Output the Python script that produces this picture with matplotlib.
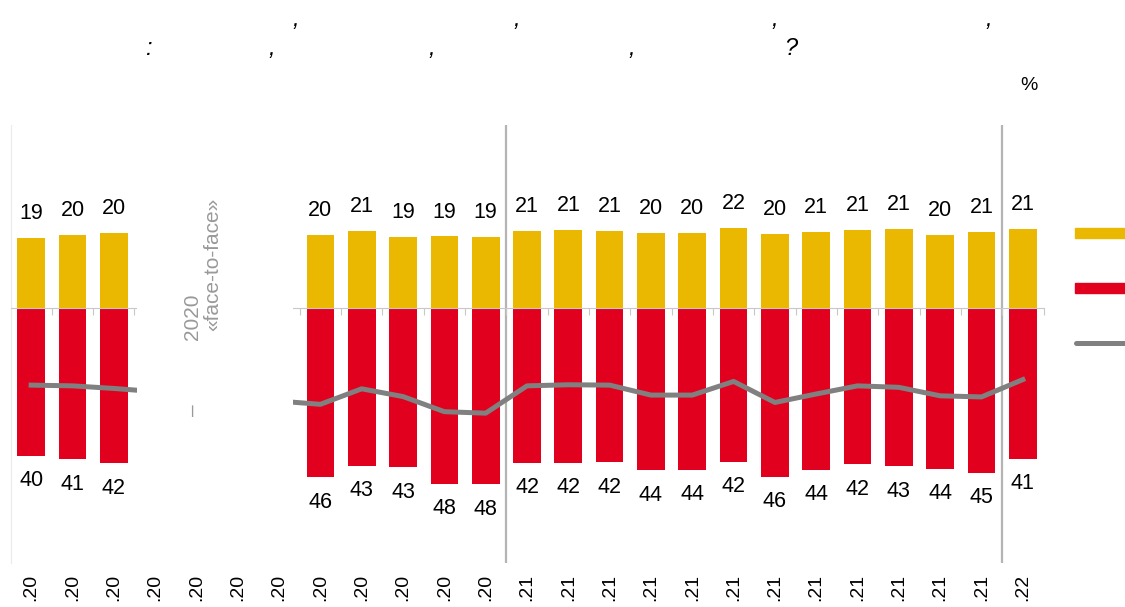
import numpy as np
import matplotlib.pyplot as plt
from matplotlib.patches import Rectangle
from matplotlib.lines import Line2D

plt.rcParams['font.family'] = ['Liberation Sans', 'DejaVu Sans']

# --- data (None = no survey that month) ---
month_labels = ['.20'] * 12 + ['.21'] * 12 + ['.22']
positive = [19.1, 19.9, 20.3, None, None, None, None,
            19.8, 20.9, 19.2, 19.4, 19.2,
            20.8, 21.1, 20.9, 20.4, 20.3, 21.8, 20.1, 20.6, 21.2, 21.4, 19.8, 20.6,
            21.4]
negative = [40.0, 41.0, 42.1, None, None, None, None,
            45.9, 42.8, 43.2, 47.6, 47.7,
            41.9, 41.9, 41.8, 44.0, 43.9, 41.7, 45.7, 43.9, 42.3, 42.9, 43.6, 44.7,
            40.8]
balance = [-20.9, -21.1, -21.8, None, None, None, None,
           -26.1, -21.9, -24.0, -28.1, -28.5,
           -21.1, -20.8, -20.9, -23.6, -23.6, -19.9, -25.6, -23.3, -21.1, -21.5, -23.8, -24.1,
           -19.4]

YELLOW = '#EAB800'
RED = '#E1001E'
GREY = '#808080'

W, H = 1125, 607
fig = plt.figure(figsize=(W / 100, H / 100), dpi=100)
ax = fig.add_axes([10.5 / W, 1 - 563 / H, 1033 / W, 438 / H])

x = np.arange(len(month_labels))
ok = np.array([v is not None for v in positive])
xs = x[ok]
pos = np.array([v for v in positive if v is not None])
neg = np.array([v for v in negative if v is not None])
bal = np.array([v for v in balance if v is not None])

ax.bar(xs, pos, width=0.67, color=YELLOW, zorder=2)
ax.bar(xs, -neg, width=0.67, color=RED, zorder=2)
ax.plot(xs, bal, color=GREY, lw=3.6, zorder=3)

for xi, p, n in zip(xs, pos, neg):
    ax.annotate(f'{p:.0f}', xy=(xi, p), xytext=(0, 17.5), textcoords='offset points',
                ha='center', va='center', fontsize=15.5, zorder=5)
    ax.annotate(f'{n:.0f}', xy=(xi, -n), xytext=(0, -18), textcoords='offset points',
                ha='center', va='center', fontsize=15.5, zorder=5)

# months without face-to-face survey
ax.axvspan(2.56, 6.34, color='white', zorder=4, lw=0)
ax.text(3.9, -2.5, '2020', rotation=90, color='#999999', fontsize=15,
        ha='center', va='center', zorder=6)
ax.text(3.92, -27.6, '–', rotation=90, color='#999999', fontsize=15,
        ha='center', va='center', zorder=6)
ax.text(4.4, 11.7, '«face-to-face»', rotation=90, color='#999999', fontsize=15,
        ha='center', va='center', zorder=6)

# year separators
for sep in (11.5, 23.5):
    ax.axvline(sep, color='#b4b4b4', lw=1.6, zorder=1)

for i, lbl in enumerate(month_labels):
    ax.annotate(lbl, xy=(i, 0), xycoords=('data', 'axes fraction'), xytext=(0, -8),
                textcoords='offset points', rotation=90, ha='center', va='top', fontsize=14)

ax.set_xlim(-0.5, 24.5)
ax.set_ylim(-(563 - 308) / 3.69, (308 - 125) / 3.69)
for s in ('top', 'right'):
    ax.spines[s].set_visible(False)
ax.spines['left'].set_color('#ebebeb')
ax.spines['bottom'].set_position(('data', 0))
ax.spines['bottom'].set_color('#c8c8c8')
ax.set_xticks(np.arange(-0.5, 25, 1))
ax.set_xticklabels([])
ax.tick_params(axis='x', length=5, color='#c8c8c8', direction='out')
ax.set_yticks([])

# title (only the punctuation of the original is rendered)
def ftext(px, py, s, **kw):
    fig.text(px / W, 1 - py / H, s, **kw)

for cx in (296, 517, 775, 989):
    ftext(cx, 26, ',', fontsize=17, style='italic', ha='center', va='baseline')
ftext(148, 55, ':', fontsize=17, style='italic', ha='center', va='baseline')
for cx in (272, 432, 632):
    ftext(cx, 55, ',', fontsize=17, style='italic', ha='center', va='baseline')
ftext(791, 55, '?', fontsize=17, style='italic', ha='center', va='baseline')
ftext(1029, 85, '%', fontsize=14, ha='center', va='center')

# legend markers
fig.add_artist(Rectangle((1075 / W, 1 - 238 / H), 55 / W, 10 / H,
                         transform=fig.transFigure, color=YELLOW))
fig.add_artist(Rectangle((1075 / W, 1 - 293 / H), 55 / W, 10 / H,
                         transform=fig.transFigure, color=RED))
fig.add_artist(Line2D([1076 / W, 1135 / W], [1 - 343 / H] * 2, lw=3.6, color=GREY,
                      solid_capstyle='round', transform=fig.transFigure))

fig.savefig('out.png', dpi=100)
